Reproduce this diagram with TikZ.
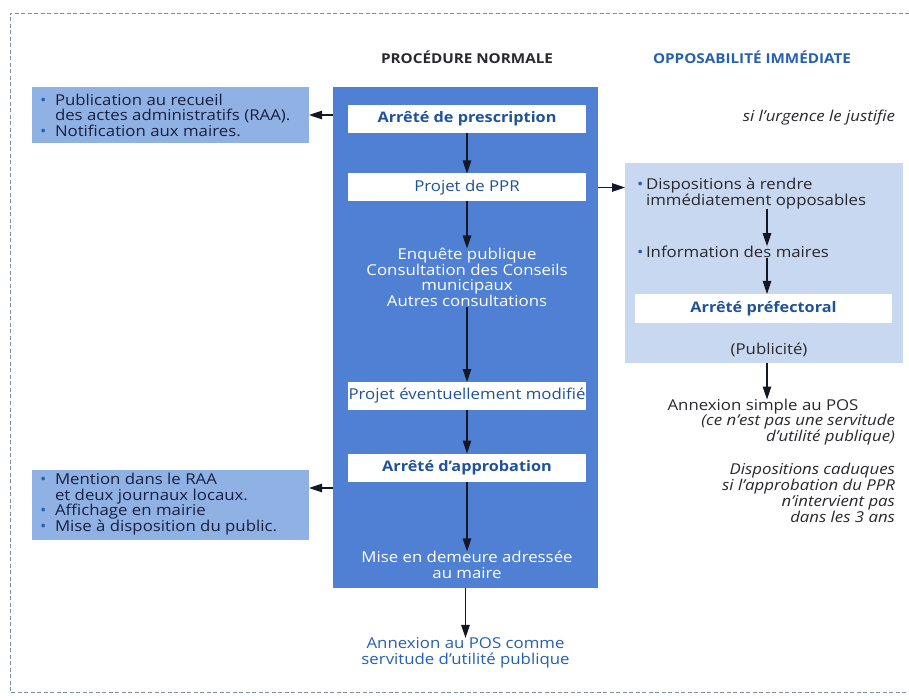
\documentclass[tikz,border=0pt]{standalone}
\usepackage{fontspec}
\setmainfont{Open Sans}[FakeStretch=1.12]
\usetikzlibrary{arrows.meta}
\definecolor{mainblue}{RGB}{79,128,212}
\definecolor{leftblue}{RGB}{144,177,228}
\definecolor{rightblue}{RGB}{200,216,240}
\definecolor{boxtext}{RGB}{32,82,155}
\definecolor{navytext}{RGB}{24,32,64}
\definecolor{titleblue}{RGB}{38,96,176}
\definecolor{bordergray}{RGB}{130,142,165}
\definecolor{graytext}{RGB}{40,40,45}
\definecolor{arrowcol}{RGB}{20,24,38}
\newcommand\lbul{\makebox[15pt][l]{\textcolor{titleblue}{•}}}
\newcommand\rbul{\makebox[9pt][l]{\textcolor{titleblue}{•}}}
\begin{document}
\begin{tikzpicture}[x=1pt,y=-1pt,
  txt/.style={inner sep=0pt, outer sep=0pt, font=\fontsize{15}{15.5}\selectfont},
  itxt/.style={txt, font=\itshape\fontsize{15}{14.5}\selectfont},
  arr/.style={draw=arrowcol, line width=1.2pt, -{Triangle[length=13pt,width=8.5pt]}},
  whitebox/.style={fill=white, minimum width=238pt, minimum height=28pt, inner sep=0pt, outer sep=0pt, text=boxtext, font=\fontsize{15}{15.5}\selectfont},
  boldbox/.style={whitebox, font=\bfseries\fontsize{14.5}{15}\selectfont},
  panel/.style={inner sep=0pt, outer sep=0pt},
  title/.style={txt, font=\bfseries\fontsize{13.6}{14}\selectfont},
]
\useasboundingbox (0,0) rectangle (909,700);
\fill[white] (0,0) rectangle (909,700);
\draw[bordergray, line width=0.8pt, dash pattern=on 4pt off 2.5pt] (909,13) -- (10,13) -- (10,692) -- (909,692);

\node[title, text=graytext] (t1) at (467,57) {PROCÉDURE NORMALE};
\node[title, text=titleblue] (t2) at (752,57) {OPPOSABILITÉ IMMÉDIATE};

\node[panel, fill=mainblue, minimum width=265pt, minimum height=501pt] (main) at (465.5,337.5) {};
\node[panel, fill=leftblue, minimum width=277pt, minimum height=56pt] (l1) at (170.5,115) {};
\node[panel, fill=leftblue, minimum width=277pt, minimum height=70pt] (l2) at (170.5,505) {};
\node[panel, fill=rightblue, minimum width=278pt, minimum height=200pt] (rb) at (764,263) {};

\node[boldbox] (ap) at (467,119) {Arrêté de prescription};
\node[whitebox] (pp) at (467,187.5) {Projet de PPR};
\node[whitebox] (pem) at (467,396) {Projet éventuellement modifié};
\node[boldbox] (aa) at (467,467.5) {Arrêté d’approbation};
\node[boldbox, minimum width=257pt, minimum height=29pt] (apf) at (763.5,308.5) {Arrêté préfectoral};

\node[txt, text=white, align=center] (enq) at (467,277.5) {Enquête publique\\Consultation des Conseils\\municipaux\\Autres consultations};
\node[txt, text=white, align=center] (mise) at (467,565) {Mise en demeure adressée\\au maire};
\node[txt, text=titleblue, align=center] (ann) at (465.5,653) {Annexion au POS comme\\servitude d’utilité publique};

\node[txt, text=navytext, align=left, anchor=west] (l1t) at (40,115) {\lbul Publication au recueil\\\hspace*{15pt}des actes administratifs (RAA).\\\lbul Notification aux maires.};
\node[txt, text=navytext, align=left, anchor=west] (l2t) at (40,504) {\lbul Mention dans le RAA\\\hspace*{15pt}et deux journaux locaux.\\\lbul Affichage en mairie\\\lbul Mise à disposition du public.};

\node[itxt, text=graytext, anchor=east] (urg) at (895,118) {si l’urgence le justifie};
\node[txt, text=graytext, align=left, anchor=west] (rb1) at (637,193.5) {\rbul Dispositions à rendre\\\hspace*{9pt}immédiatement opposables};
\node[txt, text=graytext, anchor=west] (rb2) at (637,252) {\rbul Information des maires};
\node[txt, text=graytext] (pub) at (769,350) {(Publicité)};
\node[txt, text=graytext] (asp) at (763,407) {Annexion simple au POS};
\node[itxt, text=graytext, align=right, anchor=east] (asp2) at (895,429.5) {(ce n’est pas une servitude\\d’utilité publique)};
\node[itxt, text=graytext, align=right, anchor=east] (cad) at (895,493) {Dispositions caduques\\si l’approbation du PPR\\n’intervient pas\\dans les 3 ans};

\coordinate (rx) at (767,0);
\coordinate (a2) at (333,488);
\draw[arr] (main.west |- l1.east) -- (l1.east);
\draw[arr] (ap.south) -- (pp.north);
\draw[arr] (pp.south) -- (enq.north);
\draw[arr] (enq.south) -- (pem.north);
\draw[arr] (pem.south) -- (aa.north);
\draw[arr] (aa.south) -- (mise.north);
\draw[arr] (a2) -- (a2 -| l2.east);
\draw[arr] (main.south) -- (ann.north);
\draw[arr] (main.east |- pp.east) -- (rb.west |- pp.east);
\draw[arr] (rb1.south -| rx) -- (rb2.north -| rx);
\draw[arr] (rb2.south -| rx) -- (apf.north -| rx);
\draw[arr] (rb.south -| rx) -- (asp.north -| rx);
\end{tikzpicture}
\end{document}
